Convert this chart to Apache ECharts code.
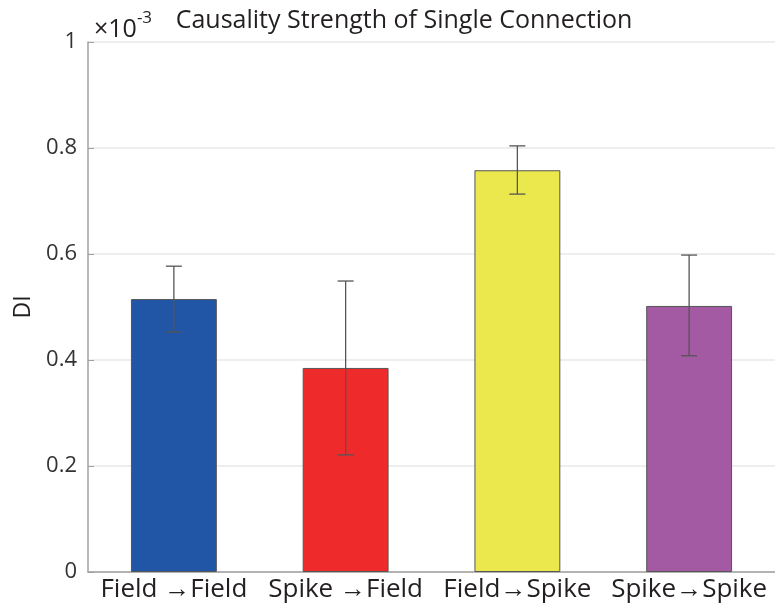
<!DOCTYPE html>
<html><head><meta charset="utf-8">
<script src="https://cdn.jsdelivr.net/npm/echarts@6/dist/echarts.min.js"></script>
<style>html,body{margin:0;padding:0;background:#fff}#c{width:775px;height:612px}</style>
</head><body><div id="c"></div>
<script>
var categories = ['Field \u2192Field', 'Spike \u2192Field', 'Field\u2192Spike', 'Spike\u2192Spike'];
var means = [0.515, 0.385, 0.758, 0.502];
var errLow = [0.453, 0.221, 0.713, 0.408];
var errHigh = [0.577, 0.549, 0.804, 0.598];
var barColors = ['#2155A5', '#EE2A2B', '#EBE84D', '#A459A3'];
var yTicks = [0, 0.2, 0.4, 0.6, 0.8, 1];

var chart = echarts.init(document.getElementById('c'));
var FONT = '"Open Sans", "Noto Sans", sans-serif';
var errData = categories.map(function (c, i) { return [i, errLow[i], errHigh[i]]; });
chart.setOption({
  animation: false,
  title: [{
    text: 'Causality Strength of Single Connection',
    left: 399, top: 3, textAlign: 'center',
    textStyle: { fontFamily: FONT, fontSize: 25, fontWeight: 'normal', color: '#231f20' }
  }, {
    text: '{a|\u00d710}{b|-3}',
    left: 89, top: 5,
    textStyle: {
      fontWeight: 'normal',
      rich: { a: { fontFamily: FONT, fontSize: 25, fontWeight: 'normal', color: '#231f20', padding: [7, 0, 0, 0] },
              b: { fontFamily: FONT, fontSize: 17, fontWeight: 'normal', color: '#231f20', verticalAlign: 'top' } }
    }
  }],
  grid: { left: 88, top: 42, width: 692, height: 530, containLabel: false },
  xAxis: {
    type: 'category', data: categories,
    axisLine: { lineStyle: { color: '#a0a0a0', width: 1.5 } },
    axisTick: { inside: true, length: 7, lineStyle: { color: '#a0a0a0' } },
    axisLabel: { interval: 0, hideOverlap: false, fontFamily: FONT, fontSize: 26, color: '#231f20', margin: 5 }
  },
  yAxis: {
    type: 'value', min: 0, max: 1, interval: 0.2,
    name: 'DI', nameLocation: 'middle', nameGap: 40, nameRotate: 90,
    nameTextStyle: { fontFamily: FONT, fontSize: 23, color: '#231f20' },
    axisLine: { show: true, lineStyle: { color: '#a0a0a0', width: 1.5 } },
    axisTick: { show: true, inside: true, length: 6, lineStyle: { color: '#a0a0a0' } },
    axisLabel: { fontFamily: FONT, fontSize: 22, color: '#333', margin: 11,
      formatter: function (v) { return String(Math.round(v * 10) / 10); } },
    splitLine: { show: true, lineStyle: { color: '#e8e8e8', width: 1.5 } }
  },
  series: [{
    type: 'bar', barWidth: '50%',
    data: means.map(function (v, i) {
      return { value: v, itemStyle: { color: barColors[i], borderColor: '#555', borderWidth: 1 } };
    })
  }, {
    type: 'custom', data: errData, z: 10,
    renderItem: function (params, api) {
      var x = api.value(0);
      var lo = api.coord([x, api.value(1)]);
      var hi = api.coord([x, api.value(2)]);
      var cw = 8;
      var st = { stroke: '#555', lineWidth: 1.3 };
      return { type: 'group', children: [
        { type: 'line', shape: { x1: hi[0], y1: hi[1], x2: lo[0], y2: lo[1] }, style: st },
        { type: 'line', shape: { x1: hi[0] - cw, y1: hi[1], x2: hi[0] + cw, y2: hi[1] }, style: st },
        { type: 'line', shape: { x1: lo[0] - cw, y1: lo[1], x2: lo[0] + cw, y2: lo[1] }, style: st }
      ]};
    }
  }]
});
</script></body></html>
